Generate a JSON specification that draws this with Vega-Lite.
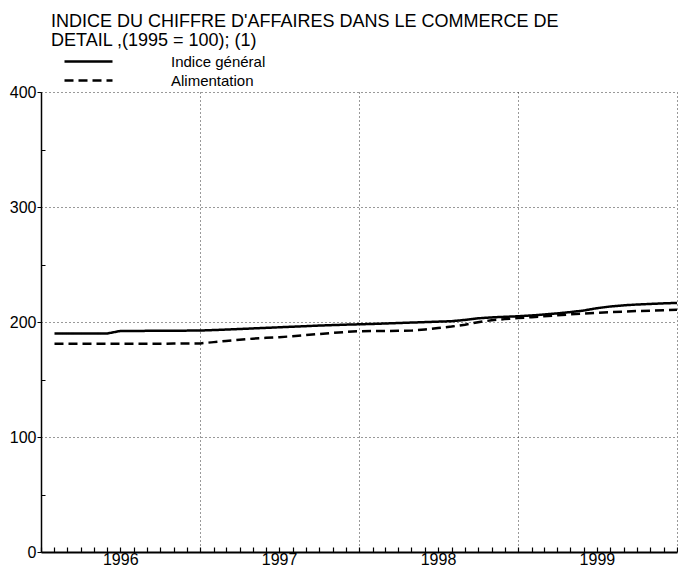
{
  "$schema": "https://vega.github.io/schema/vega-lite/v6.json",
  "autosize": "none",
  "width": 636,
  "height": 460,
  "padding": {"left": 41, "top": 92, "right": 1, "bottom": 20},
  "background": "white",
  "config": {
    "font": "Liberation Sans",
    "view": {"stroke": null}
  },
  "title": {
    "text": ["INDICE DU CHIFFRE D'AFFAIRES DANS LE COMMERCE DE", "DETAIL ,(1995 = 100); (1)"],
    "anchor": "start",
    "frame": "group",
    "dx": 10,
    "dy": -2,
    "offset": 2,
    "fontSize": 18,
    "fontWeight": "normal",
    "color": "black",
    "lineHeight": 19
  },
  "data": {
    "values": [
      {"date": "1996-02-01", "serie": "Indice général", "v": 190},
      {"date": "1996-03-01", "serie": "Indice général", "v": 190},
      {"date": "1996-04-01", "serie": "Indice général", "v": 190},
      {"date": "1996-05-01", "serie": "Indice général", "v": 190},
      {"date": "1996-06-01", "serie": "Indice général", "v": 190},
      {"date": "1996-07-01", "serie": "Indice général", "v": 192.2},
      {"date": "1996-08-01", "serie": "Indice général", "v": 192.2},
      {"date": "1996-09-01", "serie": "Indice général", "v": 192.3},
      {"date": "1996-10-01", "serie": "Indice général", "v": 192.3},
      {"date": "1996-11-01", "serie": "Indice général", "v": 192.4},
      {"date": "1996-12-01", "serie": "Indice général", "v": 192.5},
      {"date": "1997-01-01", "serie": "Indice général", "v": 192.6},
      {"date": "1997-02-01", "serie": "Indice général", "v": 193},
      {"date": "1997-03-01", "serie": "Indice général", "v": 193.4},
      {"date": "1997-04-01", "serie": "Indice général", "v": 193.9},
      {"date": "1997-05-01", "serie": "Indice général", "v": 194.4},
      {"date": "1997-06-01", "serie": "Indice général", "v": 194.9},
      {"date": "1997-07-01", "serie": "Indice général", "v": 195.4},
      {"date": "1997-08-01", "serie": "Indice général", "v": 195.9},
      {"date": "1997-09-01", "serie": "Indice général", "v": 196.4},
      {"date": "1997-10-01", "serie": "Indice général", "v": 196.9},
      {"date": "1997-11-01", "serie": "Indice général", "v": 197.3},
      {"date": "1997-12-01", "serie": "Indice général", "v": 197.7},
      {"date": "1998-01-01", "serie": "Indice général", "v": 198},
      {"date": "1998-02-01", "serie": "Indice général", "v": 198.3},
      {"date": "1998-03-01", "serie": "Indice général", "v": 198.7},
      {"date": "1998-04-01", "serie": "Indice général", "v": 199.1},
      {"date": "1998-05-01", "serie": "Indice général", "v": 199.5},
      {"date": "1998-06-01", "serie": "Indice général", "v": 199.9},
      {"date": "1998-07-01", "serie": "Indice général", "v": 200.3},
      {"date": "1998-08-01", "serie": "Indice général", "v": 200.7},
      {"date": "1998-09-01", "serie": "Indice général", "v": 201.8},
      {"date": "1998-10-01", "serie": "Indice général", "v": 203.2},
      {"date": "1998-11-01", "serie": "Indice général", "v": 204},
      {"date": "1998-12-01", "serie": "Indice général", "v": 204.5},
      {"date": "1999-01-01", "serie": "Indice général", "v": 205},
      {"date": "1999-02-01", "serie": "Indice général", "v": 205.7},
      {"date": "1999-03-01", "serie": "Indice général", "v": 206.5},
      {"date": "1999-04-01", "serie": "Indice général", "v": 207.5},
      {"date": "1999-05-01", "serie": "Indice général", "v": 208.6},
      {"date": "1999-06-01", "serie": "Indice général", "v": 210},
      {"date": "1999-07-01", "serie": "Indice général", "v": 212},
      {"date": "1999-08-01", "serie": "Indice général", "v": 213.5},
      {"date": "1999-09-01", "serie": "Indice général", "v": 214.5},
      {"date": "1999-10-01", "serie": "Indice général", "v": 215.2},
      {"date": "1999-11-01", "serie": "Indice général", "v": 215.7},
      {"date": "1999-12-01", "serie": "Indice général", "v": 216.2},
      {"date": "2000-01-01", "serie": "Indice général", "v": 216.6},
      {"date": "1996-02-01", "serie": "Alimentation", "v": 181},
      {"date": "1996-03-01", "serie": "Alimentation", "v": 181},
      {"date": "1996-04-01", "serie": "Alimentation", "v": 181},
      {"date": "1996-05-01", "serie": "Alimentation", "v": 181},
      {"date": "1996-06-01", "serie": "Alimentation", "v": 181},
      {"date": "1996-07-01", "serie": "Alimentation", "v": 181},
      {"date": "1996-08-01", "serie": "Alimentation", "v": 181},
      {"date": "1996-09-01", "serie": "Alimentation", "v": 181},
      {"date": "1996-10-01", "serie": "Alimentation", "v": 181},
      {"date": "1996-11-01", "serie": "Alimentation", "v": 181.2},
      {"date": "1996-12-01", "serie": "Alimentation", "v": 181.3},
      {"date": "1997-01-01", "serie": "Alimentation", "v": 181.4},
      {"date": "1997-02-01", "serie": "Alimentation", "v": 182.5},
      {"date": "1997-03-01", "serie": "Alimentation", "v": 183.5},
      {"date": "1997-04-01", "serie": "Alimentation", "v": 184.5},
      {"date": "1997-05-01", "serie": "Alimentation", "v": 185.5},
      {"date": "1997-06-01", "serie": "Alimentation", "v": 186.2},
      {"date": "1997-07-01", "serie": "Alimentation", "v": 186.8},
      {"date": "1997-08-01", "serie": "Alimentation", "v": 187.6},
      {"date": "1997-09-01", "serie": "Alimentation", "v": 188.6},
      {"date": "1997-10-01", "serie": "Alimentation", "v": 189.6},
      {"date": "1997-11-01", "serie": "Alimentation", "v": 190.5},
      {"date": "1997-12-01", "serie": "Alimentation", "v": 191.3},
      {"date": "1998-01-01", "serie": "Alimentation", "v": 192},
      {"date": "1998-02-01", "serie": "Alimentation", "v": 192.1},
      {"date": "1998-03-01", "serie": "Alimentation", "v": 192.2},
      {"date": "1998-04-01", "serie": "Alimentation", "v": 192.3},
      {"date": "1998-05-01", "serie": "Alimentation", "v": 192.5},
      {"date": "1998-06-01", "serie": "Alimentation", "v": 193.5},
      {"date": "1998-07-01", "serie": "Alimentation", "v": 194.7},
      {"date": "1998-08-01", "serie": "Alimentation", "v": 196},
      {"date": "1998-09-01", "serie": "Alimentation", "v": 197.7},
      {"date": "1998-10-01", "serie": "Alimentation", "v": 199.8},
      {"date": "1998-11-01", "serie": "Alimentation", "v": 201.5},
      {"date": "1998-12-01", "serie": "Alimentation", "v": 202.5},
      {"date": "1999-01-01", "serie": "Alimentation", "v": 203.4},
      {"date": "1999-02-01", "serie": "Alimentation", "v": 204.2},
      {"date": "1999-03-01", "serie": "Alimentation", "v": 205},
      {"date": "1999-04-01", "serie": "Alimentation", "v": 205.8},
      {"date": "1999-05-01", "serie": "Alimentation", "v": 206.6},
      {"date": "1999-06-01", "serie": "Alimentation", "v": 207.3},
      {"date": "1999-07-01", "serie": "Alimentation", "v": 208},
      {"date": "1999-08-01", "serie": "Alimentation", "v": 208.6},
      {"date": "1999-09-01", "serie": "Alimentation", "v": 209},
      {"date": "1999-10-01", "serie": "Alimentation", "v": 209.5},
      {"date": "1999-11-01", "serie": "Alimentation", "v": 209.9},
      {"date": "1999-12-01", "serie": "Alimentation", "v": 210.3},
      {"date": "2000-01-01", "serie": "Alimentation", "v": 210.6}
    ]
  },
  "mark": {"type": "line", "color": "black", "strokeWidth": 2.5, "interpolate": "linear"},
  "encoding": {
    "x": {
      "field": "date",
      "type": "temporal",
      "scale": {"domain": [{"year": 1996, "month": 1, "date": 1}, {"year": 2000, "month": 1, "date": 1}], "nice": false},
      "axis": {
        "title": null,
        "tickCount": {"interval": "month", "step": 1},
        "labelExpr": "month(datum.value) == 6 ? timeFormat(datum.value, '%Y') : ''",
        "labelFontSize": 16,
        "labelColor": "black",
        "labelPadding": 4,
        "labelAlign": "center",
        "labelOverlap": false,
        "labelFlush": false,
        "domainColor": "black",
        "domainWidth": 2,
        "tickColor": "black",
        "tickWidth": 1.2,
        "tickSize": -5,
        "grid": true,
        "gridColor": "black",
        "gridDash": [1, 3],
        "gridWidth": 1,
        "gridOpacity": {"condition": {"test": "month(datum.value) == 0", "value": 0.8}, "value": 0}
      }
    },
    "y": {
      "field": "v",
      "type": "quantitative",
      "scale": {"domain": [0, 400], "nice": false},
      "axis": {
        "title": null,
        "values": [0, 50, 100, 150, 200, 250, 300, 350, 400],
        "labelExpr": "datum.value % 100 == 0 ? datum.label : ''",
        "labelFontSize": 16,
        "labelColor": "black",
        "labelPadding": 1,
        "domainColor": "black",
        "domainWidth": 1.5,
        "tickColor": "black",
        "tickSize": {"condition": {"test": "datum.value % 100 == 0", "value": 4}, "value": -4},
        "grid": true,
        "gridColor": "black",
        "gridDash": [1, 3],
        "gridWidth": 1,
        "gridOpacity": {"condition": {"test": "datum.value % 100 == 0 && datum.value > 0", "value": 0.8}, "value": 0}
      }
    },
    "strokeDash": {
      "field": "serie",
      "type": "nominal",
      "scale": {"domain": ["Indice général", "Alimentation"], "range": [[1, 0], [9, 5]]},
      "legend": {
        "orient": "none",
        "legendX": 40,
        "legendY": -38,
        "title": null,
        "direction": "vertical",
        "symbolType": "M-4,0H4",
        "symbolSize": 144,
        "symbolStrokeWidth": 2.5,
        "symbolStrokeColor": "black",
        "labelFontSize": 15,
        "labelColor": "black",
        "labelOffset": 75,
        "rowPadding": 3
      }
    }
  }
}
